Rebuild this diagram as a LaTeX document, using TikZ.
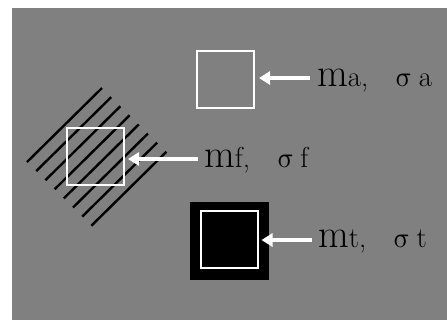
\documentclass[tikz,border=0pt]{standalone}
\usepackage{fontspec}
\usepackage{unicode-math}
\setmathfont{Latin Modern Math}
\usetikzlibrary{arrows.meta}
\definecolor{bggray}{RGB}{128,128,128}
\tikzset{
  wbox/.style={draw=white, line width=2bp, minimum size=57bp, inner sep=0pt, outer sep=0pt},
  warrow/.style={white, line width=3.5bp, -{Triangle[length=11bp,width=13bp]}},
  hatch/.style={black, line width=2.4bp},
  lbl/.style={anchor=base west, inner sep=0pt, text=black},
}
\newcommand{\mylabel}[1]{{\fontsize{40}{40}\selectfont m}{\fontsize{29}{29}\selectfont #1,}\hspace{27bp}{\fontsize{29}{29}\selectfont$\upsigma$}\hspace{6bp}{\fontsize{29}{29}\selectfont #1}}
\begin{document}
\begin{tikzpicture}[x=1bp,y=-1bp]
\useasboundingbox (0,0) rectangle (447,320);
\fill[bggray] (12,8) rectangle (447,320);
% hatching
\foreach \i in {0,...,7}{
  \draw[hatch] (27+9.2*\i,162+9.1*\i) -- (102+9.2*\i,88+9.1*\i);
}
% boxes
\node[wbox] (ba) at (225.5,79.5) {};
\fill[black] (190,202) rectangle (269,280);
\node[wbox, fill=black] (bt) at (229,239.5) {};
\node[wbox] (bf) at (95.5,156.5) {};
% labels
\node[lbl] (la) at (317,86) {\mylabel{a}};
\node[lbl] (lf) at (204,167) {\mylabel{f}};
\node[lbl] (lt) at (318,247) {\mylabel{t}};
% arrows
\coordinate (sa) at (310,78);
\coordinate (sf) at (198,159);
\coordinate (st) at (312,240);
\draw[warrow] (sa) -- ([xshift=5bp]ba.east |- sa);
\draw[warrow] (sf) -- ([xshift=4bp]bf.east |- sf);
\draw[warrow] (st) -- ([xshift=4bp]bt.east |- st);
\end{tikzpicture}
\end{document}
